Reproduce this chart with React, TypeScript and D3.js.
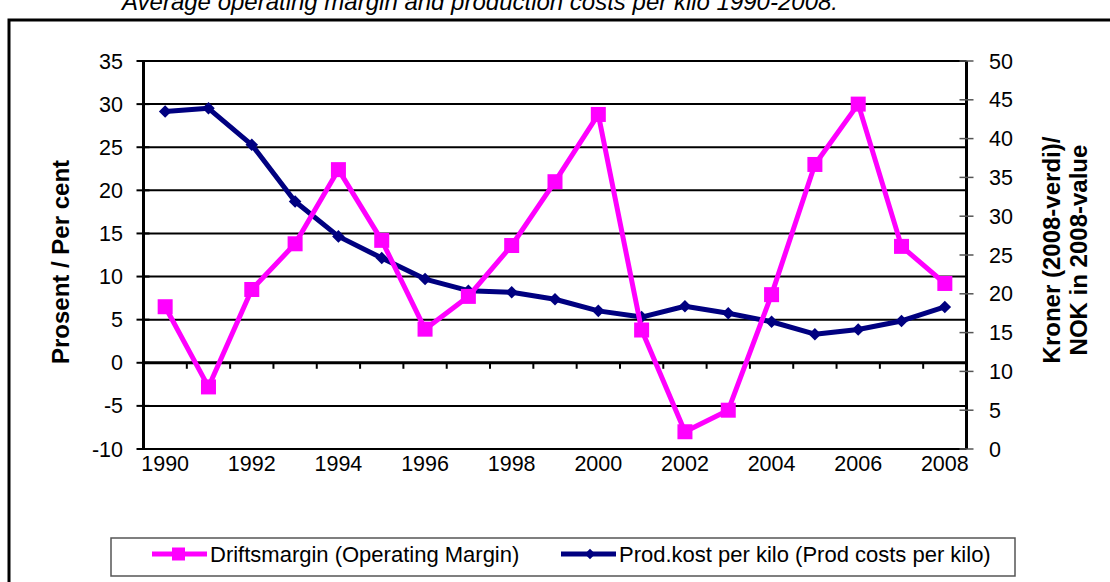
import React, { useEffect, useRef } from 'react';
import * as d3 from 'd3';

// years along the x axis
const years = [1990, 1991, 1992, 1993, 1994, 1995, 1996, 1997, 1998, 1999, 2000, 2001, 2002, 2003, 2004, 2005, 2006, 2007, 2008];
// Driftsmargin, per cent (left axis)
const margin = [6.5, -2.8, 8.5, 13.8, 22.4, 14.2, 3.9, 7.7, 13.6, 21.0, 28.8, 3.8, -8.0, -5.5, 7.9, 23.0, 30.0, 13.5, 9.2];
// Prod.kost per kilo, NOK (right axis)
const prodCost = [43.5, 43.9, 39.2, 31.9, 27.4, 24.6, 21.9, 20.4, 20.2, 19.3, 17.8, 17.0, 18.4, 17.5, 16.4, 14.8, 15.4, 16.5, 18.3];
const leftTicks = [35, 30, 25, 20, 15, 10, 5, 0, -5, -10];
const rightTicks = [50, 45, 40, 35, 30, 25, 20, 15, 10, 5, 0];
const yearLabels = [1990, 1992, 1994, 1996, 1998, 2000, 2002, 2004, 2006, 2008];

const PINK = '#ff00ff';
const NAVY = '#000080';

const App = () => {
  const ref = useRef<SVGSVGElement>(null);

  useEffect(() => {
    const svg = d3.select(ref.current);
    svg.selectAll('*').remove();

    const W = 1110, H = 582;
    const x0 = 143.5, x1 = 966.5, yTop = 61, yBot = 449;
    const font = 'Liberation Sans, Arial, sans-serif';

    // outer frame
    svg.append('rect').attr('x', 9).attr('y', 20).attr('width', W + 10).attr('height', H)
      .attr('fill', 'none').attr('stroke', '#000').attr('stroke-width', 3);

    // title (partly cut off by the top edge, as in the original)
    svg.append('text').attr('x', 122).attr('y', 10).attr('font-family', font)
      .attr('font-size', 24).attr('font-style', 'italic')
      .text('Average operating margin and production costs per kilo 1990-2008.');

    const x = d3.scaleBand<number>().domain(years).range([x0, x1]);
    const cx = (yr: number) => (x(yr) as number) + x.bandwidth() / 2;
    const yL = d3.scaleLinear().domain([-10, 35]).range([yBot, yTop]);
    const yR = d3.scaleLinear().domain([0, 50]).range([yBot, yTop]);

    // gridlines
    svg.append('g').selectAll('line').data(leftTicks).enter().append('line')
      .attr('x1', x0).attr('x2', x1).attr('y1', d => yL(d)).attr('y2', d => yL(d))
      .attr('stroke', '#000').attr('stroke-width', d => (d === 0 ? 3 : 2));

    // left axis
    svg.append('line').attr('x1', x0).attr('x2', x0).attr('y1', yTop).attr('y2', yBot)
      .attr('stroke', '#000').attr('stroke-width', 3);
    svg.append('g').selectAll('line').data(leftTicks).enter().append('line')
      .attr('x1', x0 - 7).attr('x2', x0 + 6).attr('y1', d => yL(d)).attr('y2', d => yL(d))
      .attr('stroke', '#000').attr('stroke-width', 2);
    svg.append('g').selectAll('text').data(leftTicks).enter().append('text')
      .attr('x', 123).attr('y', d => yL(d) + 7.5).attr('text-anchor', 'end')
      .attr('font-family', font).attr('font-size', 21.5).text(d => d);

    // right axis
    svg.append('line').attr('x1', x1).attr('x2', x1).attr('y1', yTop).attr('y2', yBot)
      .attr('stroke', '#000').attr('stroke-width', 3);
    svg.append('g').selectAll('line').data(rightTicks).enter().append('line')
      .attr('x1', x1 - 7).attr('x2', x1 + 7).attr('y1', d => yR(d)).attr('y2', d => yR(d))
      .attr('stroke', '#555').attr('stroke-width', 1.5);
    svg.append('g').selectAll('text').data(rightTicks).enter().append('text')
      .attr('x', 989).attr('y', d => yR(d) + 7.5).attr('text-anchor', 'start')
      .attr('font-family', font).attr('font-size', 21.5).text(d => d);

    // x ticks on the zero line, between categories
    svg.append('g').selectAll('line').data(years.slice(1)).enter().append('line')
      .attr('x1', d => x(d) as number).attr('x2', d => x(d) as number)
      .attr('y1', yL(0)).attr('y2', yL(0) + 6)
      .attr('stroke', '#000').attr('stroke-width', 2);
    svg.append('g').selectAll('text').data(yearLabels).enter().append('text')
      .attr('x', d => cx(d)).attr('y', 471).attr('text-anchor', 'middle')
      .attr('font-family', font).attr('font-size', 21.5).text(d => d);

    // axis titles
    svg.append('text').attr('transform', 'translate(69,262) rotate(-90)')
      .attr('text-anchor', 'middle').attr('font-family', font).attr('font-size', 24)
      .attr('font-weight', 'bold').text('Prosent / Per cent');
    svg.append('text').attr('transform', 'translate(1060,250) rotate(-90)')
      .attr('text-anchor', 'middle').attr('font-family', font).attr('font-size', 24)
      .attr('font-weight', 'bold').text('Kroner (2008-verdi)/');
    svg.append('text').attr('transform', 'translate(1087,250) rotate(-90)')
      .attr('text-anchor', 'middle').attr('font-family', font).attr('font-size', 24)
      .attr('font-weight', 'bold').text('NOK in 2008-value');

    // lines
    const lineL = d3.line<number>().x((_, i) => cx(years[i])).y(d => yL(d));
    const lineR = d3.line<number>().x((_, i) => cx(years[i])).y(d => yR(d));

    svg.append('path').attr('d', lineR(prodCost)).attr('fill', 'none')
      .attr('stroke', NAVY).attr('stroke-width', 5).attr('stroke-linejoin', 'round');
    svg.append('g').selectAll('path').data(prodCost).enter().append('path')
      .attr('d', d3.symbol().type(d3.symbolDiamond2).size(100)())
      .attr('transform', (d, i) => `translate(${cx(years[i])},${yR(d)})`)
      .attr('fill', NAVY);

    svg.append('path').attr('d', lineL(margin)).attr('fill', 'none')
      .attr('stroke', PINK).attr('stroke-width', 5).attr('stroke-linejoin', 'round');
    svg.append('g').selectAll('rect').data(margin).enter().append('rect')
      .attr('x', (d, i) => cx(years[i]) - 7.5).attr('y', d => yL(d) - 7.5)
      .attr('width', 15).attr('height', 15).attr('fill', PINK);

    // legend
    svg.append('rect').attr('x', 111).attr('y', 538).attr('width', 904).attr('height', 38)
      .attr('fill', '#fff').attr('stroke', '#555').attr('stroke-width', 1.5);
    const legendItems = [
      { label: 'Driftsmargin (Operating Margin)', color: PINK, x: 152, sq: true },
      { label: 'Prod.kost per kilo (Prod costs per kilo)', color: NAVY, x: 561, sq: false },
    ];
    const lg = svg.append('g').selectAll('g').data(legendItems).enter().append('g')
      .attr('transform', d => `translate(${d.x},554)`);
    lg.append('line').attr('x1', 0).attr('x2', 55).attr('y1', 0).attr('y2', 0)
      .attr('stroke', d => d.color).attr('stroke-width', 5);
    lg.filter(d => d.sq).append('rect').attr('x', 20).attr('y', -6.5).attr('width', 13).attr('height', 13)
      .attr('fill', PINK);
    lg.filter(d => !d.sq).append('path')
      .attr('d', d3.symbol().type(d3.symbolDiamond2).size(70)())
      .attr('transform', 'translate(29,0)').attr('fill', NAVY);
    lg.append('text').attr('x', 58).attr('y', 8).attr('font-family', font).attr('font-size', 22)
      .text(d => d.label);
  }, []);

  return (
    <svg ref={ref} width={1110} height={582}
      style={{ position: 'absolute', left: 0, top: 0, background: '#fff' }} />
  );
};

export default App;
